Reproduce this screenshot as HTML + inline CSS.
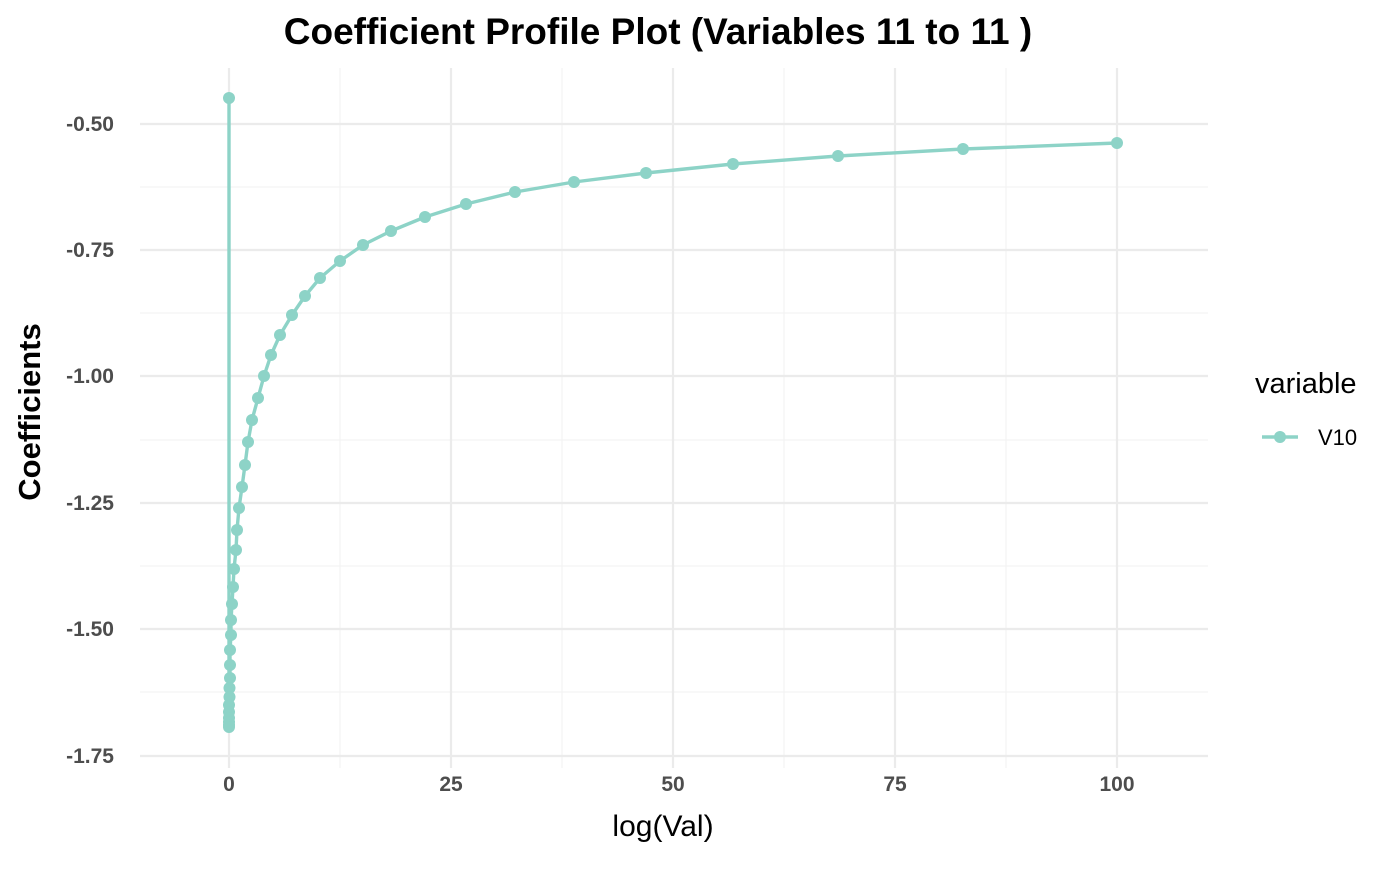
<!DOCTYPE html>
<html><head><meta charset="utf-8"><style>html,body{margin:0;padding:0;background:#fff}</style></head>
<body>
<svg width="1400" height="866" xmlns="http://www.w3.org/2000/svg" font-family="Liberation Sans, sans-serif">
<g stroke="#f3f3f3" stroke-width="1.2">
<line x1="340" y1="68" x2="340" y2="768"/><line x1="562" y1="68" x2="562" y2="768"/><line x1="784" y1="68" x2="784" y2="768"/><line x1="1006" y1="68" x2="1006" y2="768"/>
<line x1="140" y1="187" x2="1208" y2="187"/><line x1="140" y1="313" x2="1208" y2="313"/><line x1="140" y1="440" x2="1208" y2="440"/><line x1="140" y1="566" x2="1208" y2="566"/><line x1="140" y1="692" x2="1208" y2="692"/>
</g>
<g stroke="#ebebeb" stroke-width="2.2">
<line x1="229" y1="68" x2="229" y2="768"/><line x1="451" y1="68" x2="451" y2="768"/><line x1="673" y1="68" x2="673" y2="768"/><line x1="895" y1="68" x2="895" y2="768"/><line x1="1117" y1="68" x2="1117" y2="768"/>
<line x1="140" y1="124" x2="1208" y2="124"/><line x1="140" y1="250" x2="1208" y2="250"/><line x1="140" y1="376" x2="1208" y2="376"/><line x1="140" y1="503" x2="1208" y2="503"/><line x1="140" y1="629" x2="1208" y2="629"/><line x1="140" y1="756" x2="1208" y2="756"/>
</g>
<polyline fill="none" stroke="#8dd3c7" stroke-width="3.4" stroke-linejoin="round" points="1117,143 963,149 838,156 733,164 646,173 574,182 515,192 466,204 425,217 391,231 363,245 340,261 320,278 305,296 292,315 280,335 271,355 264,376 258,398 252,420 248,442 245,465 242,487 239,508 237,530 236,550 234,569 233,587 232,604 231,620 231,635 230,650 230,665 230,678 229.5,688 229.5,697 229,705 229,712 229,718 229,722 229,725 229,727 229,98"/>
<g fill="#8dd3c7">
<circle cx="1117" cy="143" r="6"/><circle cx="963" cy="149" r="6"/><circle cx="838" cy="156" r="6"/><circle cx="733" cy="164" r="6"/><circle cx="646" cy="173" r="6"/><circle cx="574" cy="182" r="6"/><circle cx="515" cy="192" r="6"/><circle cx="466" cy="204" r="6"/><circle cx="425" cy="217" r="6"/><circle cx="391" cy="231" r="6"/><circle cx="363" cy="245" r="6"/><circle cx="340" cy="261" r="6"/><circle cx="320" cy="278" r="6"/><circle cx="305" cy="296" r="6"/><circle cx="292" cy="315" r="6"/><circle cx="280" cy="335" r="6"/><circle cx="271" cy="355" r="6"/><circle cx="264" cy="376" r="6"/><circle cx="258" cy="398" r="6"/><circle cx="252" cy="420" r="6"/><circle cx="248" cy="442" r="6"/><circle cx="245" cy="465" r="6"/><circle cx="242" cy="487" r="6"/><circle cx="239" cy="508" r="6"/><circle cx="237" cy="530" r="6"/><circle cx="236" cy="550" r="6"/><circle cx="234" cy="569" r="6"/><circle cx="233" cy="587" r="6"/><circle cx="232" cy="604" r="6"/><circle cx="231" cy="620" r="6"/><circle cx="231" cy="635" r="6"/><circle cx="230" cy="650" r="6"/><circle cx="230" cy="665" r="6"/><circle cx="230" cy="678" r="6"/><circle cx="229.5" cy="688" r="6"/><circle cx="229.5" cy="697" r="6"/><circle cx="229" cy="705" r="6"/><circle cx="229" cy="712" r="6"/><circle cx="229" cy="718" r="6"/><circle cx="229" cy="722" r="6"/><circle cx="229" cy="725" r="6"/><circle cx="229" cy="727" r="6"/><circle cx="229" cy="98" r="6"/>
</g>
<g font-size="21" font-weight="bold" fill="#4d4d4d" text-anchor="end">
<text x="114" y="131">-0.50</text><text x="114" y="257">-0.75</text><text x="114" y="383">-1.00</text><text x="114" y="510">-1.25</text><text x="114" y="636">-1.50</text><text x="114" y="763">-1.75</text>
</g>
<g font-size="21" font-weight="bold" fill="#4d4d4d" text-anchor="middle">
<text x="229" y="791">0</text><text x="451" y="791">25</text><text x="673" y="791">50</text><text x="895" y="791">75</text><text x="1117" y="791">100</text>
</g>
<text x="658" y="44" font-size="37" font-weight="bold" text-anchor="middle">Coefficient Profile Plot (Variables 11 to 11 )</text>
<text x="663" y="836" font-size="30" text-anchor="middle">log(Val)</text>
<text transform="translate(40,412) rotate(-90)" font-size="31" font-weight="bold" text-anchor="middle">Coefficients</text>
<text x="1255" y="393" font-size="29">variable</text>
<line x1="1262" y1="437" x2="1298" y2="437" stroke="#8dd3c7" stroke-width="3.4"/>
<circle cx="1280" cy="437" r="6" fill="#8dd3c7"/>
<text x="1318" y="445" font-size="22">V10</text>
</svg>
</body></html>
